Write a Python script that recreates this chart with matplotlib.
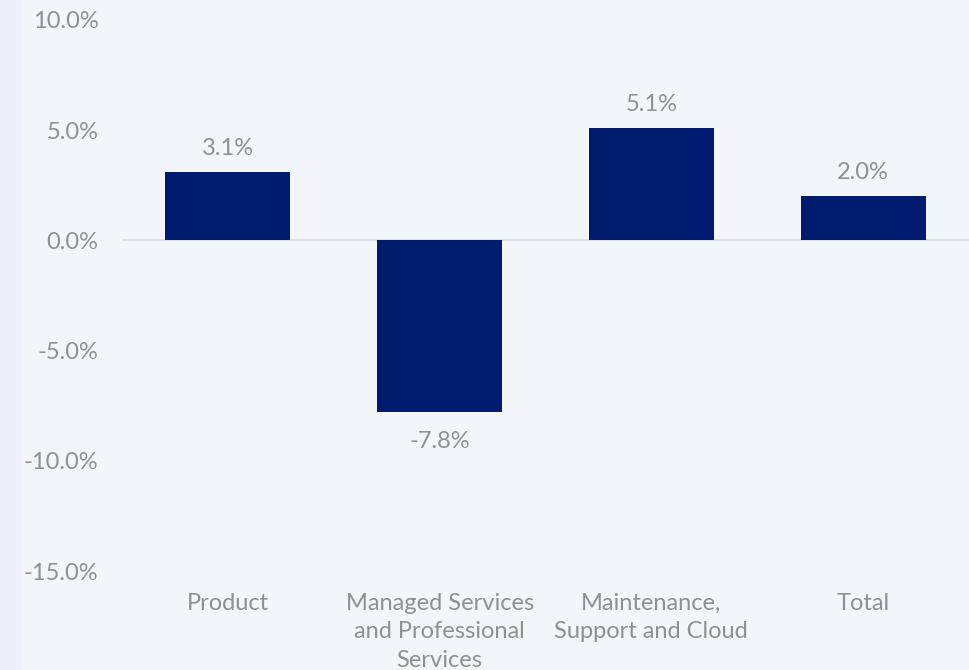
import matplotlib.pyplot as plt
import matplotlib.patches as mpatches
import numpy as np

categories = ['Product', 'Managed Services\nand Professional\nServices',
              'Maintenance,\nSupport and Cloud', 'Total']
values = [3.1, -7.8, 5.1, 2.0]
yticks = [10, 5, 0, -5, -10, -15]

bg = '#f2f5fa'
bar_color = '#001a6e'
text_color = '#8e9092'
fs = 17

plt.rcParams['font.family'] = ['Lato', 'DejaVu Sans']

fig = plt.figure(figsize=(9.69, 6.70), dpi=100, facecolor=bg)
# lavender strip on the left edge
fig.patches.append(mpatches.Rectangle((0, 0), 20 / 969, 1, transform=fig.transFigure,
                                      color='#eeeffa', zorder=0))
ax = fig.add_axes([122 / 969, 1 - 571 / 670, 1 - 122 / 969, (571 - 20) / 670])
ax.set_facecolor(bg)

x = np.arange(len(categories))
ax.bar(x, values, width=0.59, color=bar_color, zorder=3)
ax.axhline(0, color='#dcdfe4', linewidth=1.5, zorder=2)

for xi, v in zip(x, values):
    if v >= 0:
        ax.text(xi, v + 0.6, f'{v:.1f}%', ha='center', va='bottom',
                fontsize=fs, color=text_color)
    else:
        ax.text(xi, v - 0.85, f'{v:.1f}%', ha='center', va='top',
                fontsize=fs, color=text_color)

ax.set_xlim(-0.5, 3.5)
ax.set_ylim(-15, 10)
ax.set_yticks(yticks)
ax.set_yticklabels([f'{t:.1f}%' for t in yticks])
ax.set_xticks(x)
ax.set_xticklabels(categories, linespacing=1.42)
ax.tick_params(axis='y', length=0, pad=17, labelsize=fs, labelcolor=text_color)
ax.tick_params(axis='x', length=0, pad=16, labelsize=fs, labelcolor=text_color)
for s in ax.spines.values():
    s.set_visible(False)

fig.savefig('out.png', dpi=100, facecolor=bg)
